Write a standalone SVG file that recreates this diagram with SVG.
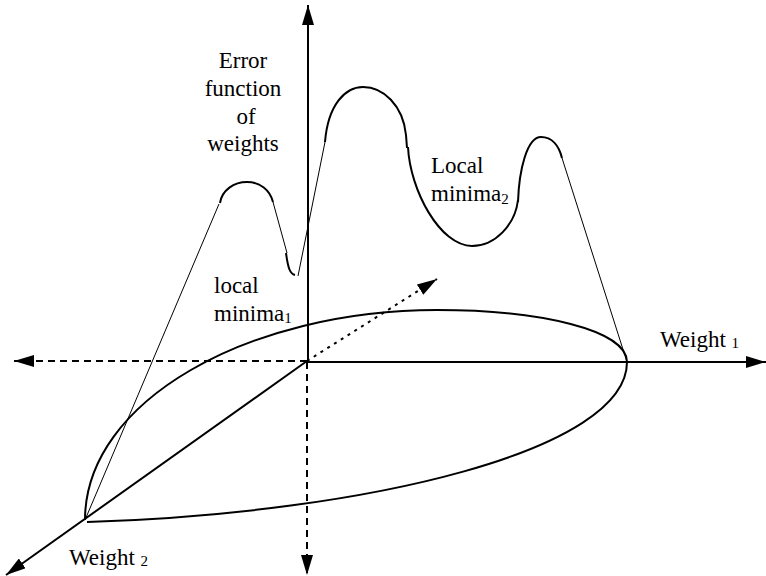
<svg xmlns="http://www.w3.org/2000/svg" width="766" height="576" viewBox="0 0 766 576">
<style>
.ax{stroke:#000;stroke-width:2;fill:none}
.dash{stroke:#000;stroke-width:2;fill:none;stroke-dasharray:7 5}
.dot{stroke:#000;stroke-width:2;fill:none;stroke-dasharray:3 5}
.thick{stroke:#000;stroke-width:2;fill:none}
.thin{stroke:#000;stroke-width:1;fill:none}
.lbl{font-size:23px;fill:#000}
.sub{font-size:15px}
</style>
<defs>
<marker id="ah" viewBox="0 0 20 12" refX="20" refY="6" markerWidth="20" markerHeight="12" markerUnits="userSpaceOnUse" orient="auto">
<path d="M0,0 L20,6 L0,12 z" fill="#000"/>
</marker>
</defs>
<g id="connectors">
<line class="ax" x1="308" y1="362" x2="308" y2="5" marker-end="url(#ah)"/>
<line class="ax" x1="308" y1="362" x2="766" y2="362" marker-end="url(#ah)"/>
<line class="dash" x1="307" y1="361" x2="14" y2="361" marker-end="url(#ah)"/>
<line class="dash" x1="307" y1="362" x2="307" y2="575" marker-end="url(#ah)"/>
<line class="ax" x1="307" y1="361" x2="6" y2="575" marker-end="url(#ah)"/>
<line class="dot" x1="307" y1="361" x2="437" y2="279" marker-end="url(#ah)"/>
</g>
<g id="ellipse">
<path class="thick" d="M85,520 C85,400 250,310 437,310 C540,310 627,330 627,362 C627,450 370,513 87,522"/>
</g>
<g id="error-curve">
<path class="thin" d="M85,520 L219,204"/>
<path class="thick" d="M220,203 C222,190 234,182 247,182 C260,182 270,190 273,202"/>
<path class="thin" d="M273,202 L287,253"/>
<path class="thick" d="M286,253 C288,268 290,274 295,275"/>
<path class="thin" d="M298,276 L325,142"/>
<path class="thick" d="M325,142 C328,105 345,87 363,87 C383,87 403,105 406,135 L407,148"/>
<path class="thick" d="M408,147 C410,190 440,246 472,246 C495,246 515,225 518,200"/>
<path class="thick" d="M518,202 C519,170 527,137 541,137 C552,137 559,146 562,158"/>
<path class="thin" d="M562,158 L627,362"/>
</g>
<g id="labels" font-family="Liberation Serif, Times New Roman, DejaVu Serif, serif">
<text class="lbl" x="243" y="68" text-anchor="middle">Error</text>
<text class="lbl" x="243" y="96" text-anchor="middle">function</text>
<text class="lbl" x="246" y="124" text-anchor="middle">of</text>
<text class="lbl" x="243" y="151" text-anchor="middle">weights</text>
<text class="lbl" x="214" y="293">local</text>
<text class="lbl" x="214" y="321">minima<tspan class="sub" dy="2">1</tspan></text>
<text class="lbl" x="431" y="173">Local</text>
<text class="lbl" x="431" y="201">minima<tspan class="sub" dy="3">2</tspan></text>
<text class="lbl" x="660" y="347">Weight <tspan class="sub" dy="1">1</tspan></text>
<text class="lbl" x="69" y="565">Weight <tspan class="sub" dy="1">2</tspan></text>
</g>
</svg>
